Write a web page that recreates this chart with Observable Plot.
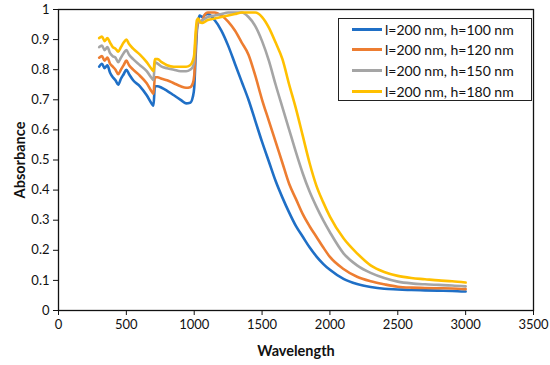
<!DOCTYPE html>
<html>
<head>
<meta charset="utf-8">
<script src="https://cdn.jsdelivr.net/npm/d3@7"></script>
<script src="https://cdn.jsdelivr.net/npm/@observablehq/plot@0.6"></script>
<style>
  body { margin: 0; background: #fff; }
  #wrap { position: relative; width: 550px; height: 365px; font-family: Lato, "Open Sans", sans-serif; }
  #legend { position: absolute; left: 338px; top: 18px; width: 194px; height: 83px; border: 1.2px solid #222; background: #fff; box-sizing: border-box; }
  .item { position: absolute; left: 0; height: 20px; display: flex; align-items: center; font-size: 14px; color: #111; white-space: nowrap; }
  .sw { width: 30px; height: 3px; margin-left: 13px; margin-right: 3px; }
</style>
</head>
<body>
<div id="wrap"></div>
<script>
const seriesNames = ["l=200 nm, h=100 nm", "l=200 nm, h=120 nm", "l=200 nm, h=150 nm", "l=200 nm, h=180 nm"];
const colors = ["#1f6fc6", "#ed7d31", "#a5a5a5", "#ffc000"];
const xTicks = [0, 500, 1000, 1500, 2000, 2500, 3000, 3500];
const yTicks = [0, 0.1, 0.2, 0.3, 0.4, 0.5, 0.6, 0.7, 0.8, 0.9, 1];

const wavelength = [300,320,340,360,380,400,420,440,460,480,500,520,550,600,650,690,700,710,730,760,800,850,900,940,970,990,1000,1010,1020,1030,1040,1060,1080,1100,
  1150,1200,1250,1300,1350,1400,1450,1500,1550,1600,1650,1700,1750,1800,1850,1900,1950,2000,2100,2200,2300,2400,2500,2600,2700,2800,2900,3000];

const h100 = [0.81,0.82,0.805,0.815,0.79,0.775,0.765,0.75,0.77,0.785,0.80,0.785,0.765,0.745,0.715,0.685,0.68,0.745,0.745,0.74,0.73,0.715,0.70,0.688,0.69,0.71,0.74,0.84,0.93,0.965,0.98,0.975,0.982,0.985,
  0.965,0.93,0.88,0.82,0.76,0.70,0.63,0.56,0.495,0.43,0.375,0.325,0.28,0.245,0.21,0.18,0.155,0.135,0.105,0.088,0.078,0.072,0.07,0.068,0.067,0.066,0.065,0.063];

const h120 = [0.84,0.845,0.83,0.84,0.82,0.81,0.80,0.785,0.80,0.815,0.83,0.815,0.80,0.78,0.755,0.725,0.72,0.775,0.775,0.77,0.765,0.755,0.745,0.74,0.742,0.755,0.78,0.87,0.94,0.955,0.96,0.965,0.985,0.99,
  0.99,0.98,0.96,0.93,0.89,0.85,0.78,0.70,0.63,0.56,0.49,0.42,0.37,0.32,0.28,0.245,0.21,0.178,0.138,0.112,0.097,0.087,0.079,0.076,0.075,0.074,0.073,0.071];

const h150 = [0.875,0.88,0.865,0.875,0.855,0.845,0.84,0.825,0.84,0.855,0.865,0.85,0.835,0.815,0.795,0.77,0.765,0.825,0.82,0.81,0.805,0.80,0.795,0.795,0.80,0.81,0.83,0.90,0.95,0.96,0.96,0.965,0.97,0.975,
  0.98,0.985,0.99,0.99,0.99,0.975,0.945,0.895,0.83,0.75,0.675,0.60,0.525,0.455,0.395,0.345,0.30,0.26,0.19,0.15,0.125,0.108,0.096,0.09,0.087,0.085,0.083,0.08];

const h180 = [0.905,0.91,0.895,0.905,0.89,0.875,0.87,0.86,0.875,0.89,0.90,0.885,0.87,0.85,0.825,0.80,0.795,0.835,0.835,0.825,0.815,0.81,0.81,0.81,0.815,0.83,0.85,0.92,0.965,0.97,0.96,0.955,0.96,0.965,
  0.97,0.975,0.98,0.985,0.99,0.99,0.99,0.975,0.94,0.89,0.835,0.75,0.67,0.58,0.49,0.415,0.36,0.312,0.24,0.19,0.15,0.128,0.115,0.108,0.104,0.10,0.097,0.093];

const allSeries = [h100, h120, h150, h180];
const data = [];
allSeries.forEach((vals, si) => {
  vals.forEach((v, i) => data.push({ series: seriesNames[si], wl: wavelength[i], a: v }));
});

const chart = Plot.plot({
  width: 550,
  height: 365,
  marginLeft: 58,
  marginRight: 17,
  marginTop: 9,
  marginBottom: 55,
  style: { fontFamily: "Lato, 'Open Sans', sans-serif", fontSize: "13px", color: "#111", background: "#fff" },
  x: { domain: [0, 3500], ticks: xTicks, tickFormat: d => String(d), tickSize: 5, label: "Wavelength", labelAnchor: "center", labelOffset: 45 },
  y: { domain: [0, 1], ticks: yTicks, tickFormat: d => String(+d.toFixed(1)), tickSize: 5, label: "Absorbance", labelAnchor: "center", labelOffset: 44 },
  color: { domain: seriesNames, range: colors },
  marks: [
    Plot.line(data, { x: "wl", y: "a", z: "series", stroke: "series", strokeWidth: 2.6, curve: "monotone-x" }),
    Plot.frame({ stroke: "#111", strokeWidth: 1.3 })
  ]
});
d3.select(chart).selectAll("[aria-label='x-axis label'] text, [aria-label='y-axis label'] text")
  .style("font-weight", "bold").style("font-size", "14.5px")
  .each(function () { this.textContent = this.textContent.replace(/\s*[→↑←↓]\s*/g, "").trim(); });
d3.select(chart).selectAll("[aria-label='x-axis tick label'] text, [aria-label='y-axis tick label'] text").style("font-size", "13px");
document.getElementById("wrap").appendChild(chart);

const legend = document.createElement("div");
legend.id = "legend";
seriesNames.forEach((name, i) => {
  const item = document.createElement("div");
  item.className = "item";
  item.style.top = (0 + i * 20.7) + "px";
  const sw = document.createElement("span");
  sw.className = "sw";
  sw.style.background = colors[i];
  const t = document.createElement("span");
  t.textContent = name;
  item.appendChild(sw); item.appendChild(t);
  legend.appendChild(item);
});
document.getElementById("wrap").appendChild(legend);
</script>
</body>
</html>
